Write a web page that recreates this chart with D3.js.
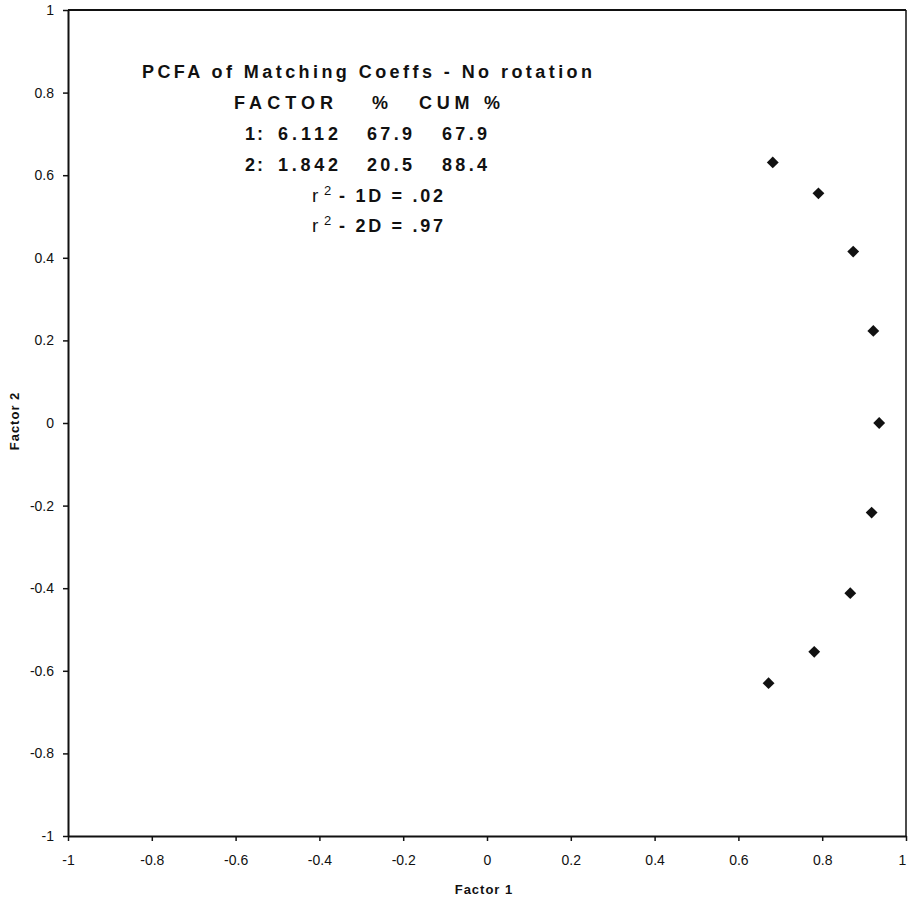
<!DOCTYPE html>
<html>
<head>
<meta charset="utf-8">
<script src="https://cdn.jsdelivr.net/npm/d3@7"></script>
<style>
  html, body { margin: 0; padding: 0; background: #fff; }
  svg { display: block; font-family: "Liberation Sans", Arial, sans-serif; }
</style>
</head>
<body>
<svg id="chart" width="908" height="899"></svg>
<script>
// ---- data ----
const factor1 = [0.682, 0.791, 0.874, 0.922, 0.936, 0.918, 0.867, 0.781, 0.672];
const factor2 = [0.631, 0.556, 0.415, 0.223, 0.000, -0.217, -0.412, -0.554, -0.630];
const xTicks = [-1, -0.8, -0.6, -0.4, -0.2, 0, 0.2, 0.4, 0.6, 0.8, 1];
const yTicks = [-1, -0.8, -0.6, -0.4, -0.2, 0, 0.2, 0.4, 0.6, 0.8, 1];
const xTickLabels = ["-1", "-0.8", "-0.6", "-0.4", "-0.2", "0", "0.2", "0.4", "0.6", "0.8", "1"];
const yTickLabels = ["-1", "-0.8", "-0.6", "-0.4", "-0.2", "0", "0.2", "0.4", "0.6", "0.8", "1"];
const titleText = "PCFA of Matching Coeffs - No rotation";
const headerCells = ["FACTOR", "%", "CUM %"];
const factorRows = [
  ["1:", "6.112", "67.9", "67.9"],
  ["2:", "1.842", "20.5", "88.4"]
];
const r2Rows = [
  ["1D", ".02"],
  ["2D", ".97"]
];
const xLabel = "Factor 1";
const yLabel = "Factor 2";

// ---- layout ----
const svg = d3.select("#chart");
const plotLeft = 68, plotRight = 906, plotTop = 10, plotBottom = 836;
const x = d3.scaleLinear().domain([-1, 1]).range([plotLeft, plotRight]);
const y = d3.scaleLinear().domain([-1, 1]).range([plotBottom, plotTop]);
const ink = "#111";

// frame (top & right)
svg.append("line").attr("x1", plotLeft).attr("x2", plotRight).attr("y1", plotTop).attr("y2", plotTop)
  .attr("stroke", ink).attr("stroke-width", 2);
svg.append("line").attr("x1", plotRight).attr("x2", plotRight).attr("y1", plotTop).attr("y2", plotBottom)
  .attr("stroke", ink).attr("stroke-width", 1.5);

// axes
const xAxis = d3.axisBottom(x).tickValues(xTicks)
  .tickFormat((d, i) => xTickLabels[i]).tickSize(5).tickSizeOuter(0).tickPadding(14);
const yAxis = d3.axisLeft(y).tickValues(yTicks)
  .tickFormat((d, i) => yTickLabels[i]).tickSize(5).tickSizeOuter(0).tickPadding(9);

const gx = svg.append("g").attr("transform", `translate(0,${plotBottom})`).call(xAxis);
const gy = svg.append("g").attr("transform", `translate(${plotLeft},0)`).call(yAxis);
[gx, gy].forEach(g => {
  g.select(".domain").attr("stroke", ink).attr("stroke-width", 2);
  g.selectAll(".tick line").attr("stroke", ink).attr("stroke-width", 1.5);
  g.selectAll(".tick text").attr("fill", ink)
    .style("font-family", "'Liberation Sans', Arial, sans-serif")
    .style("font-size", "14px");
});
// keep the last x label inside the page edge
gx.selectAll(".tick text").filter(d => d === 1).attr("dx", "-4");

// axis titles
svg.append("text").attr("x", 484).attr("y", 894).attr("text-anchor", "middle")
  .style("font-size", "13px").style("font-weight", "bold").style("letter-spacing", "1px")
  .attr("fill", ink).text(xLabel);
svg.append("text").attr("transform", "translate(19,421) rotate(-90)").attr("text-anchor", "middle")
  .style("font-size", "13px").style("font-weight", "bold").style("letter-spacing", "1px")
  .attr("fill", ink).text(yLabel);

// points (diamonds)
const pts = factor1.map((v, i) => [v, factor2[i]]);
svg.append("g").selectAll("path").data(pts).join("path")
  .attr("d", d3.symbol().type(d3.symbolSquare).size(70))
  .attr("transform", d => `translate(${x(d[0])},${y(d[1])}) rotate(45)`)
  .attr("fill", ink);

// annotation text block
const ann = svg.append("g").attr("fill", ink)
  .style("font-weight", "bold").style("font-size", "18px");

ann.append("text").attr("x", 142).attr("y", 78)
  .attr("textLength", 450).attr("lengthAdjust", "spacing").text(titleText);

const headerPos = [[234, 99], [372, 16], [419, 81]];
headerCells.forEach((t, i) => {
  ann.append("text").attr("x", headerPos[i][0]).attr("y", 109)
    .attr("textLength", headerPos[i][1]).attr("lengthAdjust", "spacing").text(t);
});

const colPos = [[245, 18], [278, 60], [367, 45], [442, 45]];
const rowBase = [140, 171];
factorRows.forEach((row, r) => {
  row.forEach((t, c) => {
    ann.append("text").attr("x", colPos[c][0]).attr("y", rowBase[r])
      .attr("textLength", colPos[c][1]).attr("lengthAdjust", "spacing").text(t);
  });
});

const r2Base = [202, 232];
r2Rows.forEach((row, r) => {
  const by = r2Base[r];
  ann.append("text").attr("x", 312).attr("y", by)
    .style("font-weight", "normal").style("font-size", "19px").text("r");
  ann.append("text").attr("x", 324).attr("y", by - 7)
    .style("font-weight", "normal").style("font-size", "13px").text("2");
  ann.append("text").attr("x", 339).attr("y", by)
    .attr("textLength", 104).attr("lengthAdjust", "spacing")
    .text(`- ${row[0]} = ${row[1]}`);
});
</script>
</body>
</html>
